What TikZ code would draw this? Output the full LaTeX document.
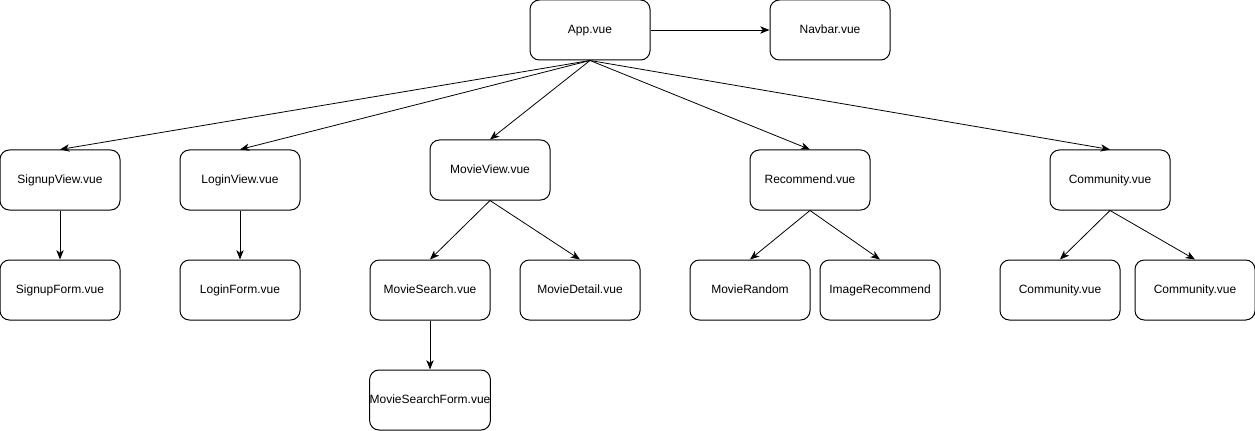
\documentclass[tikz,border=0pt]{standalone}
\usepackage{fontspec}
\setmainfont{Liberation Sans}
\usetikzlibrary{arrows.meta}
\tikzset{vuebox/.style={
  draw,rounded corners=7pt,line width=0.75pt,
  minimum width=90pt,minimum height=45pt,inner xsep=0pt,
  text height=6.5pt,text depth=1pt,
  font=\fontsize{9pt}{11pt}\selectfont
}}
\tikzset{link/.style={-{Stealth[length=7pt,width=5.5pt,inset=2pt]},line width=0.6pt}}

\begin{document}
\begin{tikzpicture}[x=0.75pt,y=-0.75pt]
        \useasboundingbox (0,0) rectangle (1255,431);
        \begin{scope}[every node/.style={vuebox}]
          \node (app) at (590,30) {App.vue};
          \node (navbar) at (830,30) {Navbar.vue};
          % views
          \node (signupview) at (60,180) {SignupView.vue};
          \node (loginview) at (240,180) {LoginView.vue};
          \node (movieview) at (490,170) {MovieView.vue};
          \node (recommend) at (810,180) {Recommend.vue};
          \node (community) at (1110,180) {Community.vue};
          % components
          \node (signupform) at (60,290) {SignupForm.vue};
          \node (loginform) at (240,290) {LoginForm.vue};
          \node (moviesearch) at (430,290) {MovieSearch.vue};
          \node (moviedetail) at (580,290) {MovieDetail.vue};
          \node (movierandom) at (750,290) {MovieRandom};
          \node (imagerecommend) at (880,290) {ImageRecommend};
          \node (communitya) at (1060,290) {Community.vue};
          \node (communityb) at (1195,290) {Community.vue};
          \node (searchform) at (430,400) {MovieSearchForm.vue};
        \end{scope}
        \begin{scope}[every path/.style={link}]
          \draw (app) -- (navbar);
          \foreach \v in {signupview,loginview,movieview,recommend,community}
            \draw (app.south) -- (\v.north);
          \draw (signupview) -- (signupform);
          \draw (loginview) -- (loginform);
          \draw (movieview.south) -- (moviesearch.north);
          \draw (movieview.south) -- (moviedetail.north);
          \draw (recommend.south) -- (movierandom.north);
          \draw (recommend.south) -- (imagerecommend.north);
          \draw (community.south) -- (communitya.north);
          \draw (community.south) -- (communityb.north);
          \draw (moviesearch) -- (searchform);
        \end{scope}
      \end{tikzpicture}
\end{document}
